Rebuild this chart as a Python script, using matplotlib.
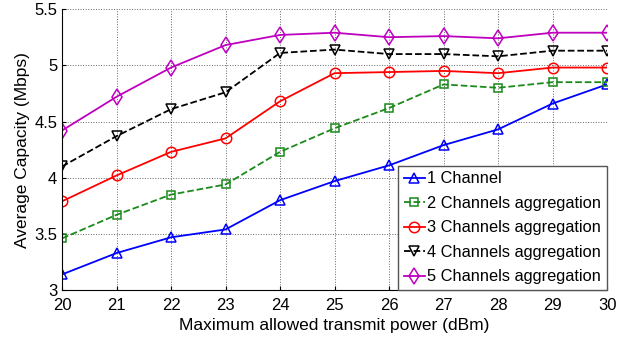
import matplotlib
matplotlib.use('Agg')
import matplotlib.pyplot as plt

# Capacity vs. transmit power for different numbers of aggregated channels
power = [20, 21, 22, 23, 24, 25, 26, 27, 28, 29, 30]
ch1 = [3.14, 3.33, 3.47, 3.54, 3.80, 3.97, 4.11, 4.29, 4.43, 4.66, 4.83]
ch2 = [3.46, 3.67, 3.85, 3.94, 4.23, 4.44, 4.62, 4.83, 4.80, 4.85, 4.85]
ch3 = [3.79, 4.02, 4.23, 4.35, 4.68, 4.93, 4.94, 4.95, 4.93, 4.98, 4.98]
ch4 = [4.10, 4.37, 4.61, 4.76, 5.11, 5.14, 5.10, 5.10, 5.08, 5.13, 5.13]
ch5 = [4.42, 4.72, 4.98, 5.18, 5.27, 5.29, 5.25, 5.26, 5.24, 5.29, 5.29]

labels = ['1 Channel', '2 Channels aggregation', '3 Channels aggregation',
          '4 Channels aggregation', '5 Channels aggregation']

plt.rcParams['font.family'] = ['Liberation Sans', 'DejaVu Sans']

fig, ax = plt.subplots(figsize=(6.22, 3.37), dpi=100)
fig.subplots_adjust(left=0.0997, right=0.976, top=0.973, bottom=0.139)

ax.plot(power, ch1, '-', color='#0000ff', marker='^', ms=7.5, mfc='none', mew=1.1, lw=1.3, label=labels[0])
ax.plot(power, ch2, '--', color='#1a8a1a', marker='s', ms=6, mfc='none', mew=1.1, lw=1.3, label=labels[1])
ax.plot(power, ch3, '-', color='#ff0000', marker='o', ms=7.5, mfc='none', mew=1.1, lw=1.3, label=labels[2])
ax.plot(power, ch4, '--', color='black', marker='v', ms=7.5, mfc='none', mew=1.1, lw=1.3, label=labels[3])
ax.plot(power, ch5, '-', color='#bf00bf', marker='d', ms=8.5, mfc='none', mew=1.1, lw=1.3, label=labels[4])

ax.set_xlim(20, 30)
ax.set_ylim(3, 5.5)
ax.set_xticks(power)
ax.set_yticks([3, 3.5, 4, 4.5, 5, 5.5])
ax.set_yticklabels(['3', '3.5', '4', '4.5', '5', '5.5'])
ax.grid(True, linestyle=':', color='#666666', linewidth=0.7)
ax.tick_params(labelsize=12, direction='in', length=3)
ax.tick_params(axis='x', pad=6)
for side in ['top', 'right']:
    ax.spines[side].set_visible(False)

ax.set_xlabel('Maximum allowed transmit power (dBm)', fontsize=12.5, labelpad=3)
ax.set_ylabel('Average Capacity (Mbps)', fontsize=12.5, labelpad=3)

leg = ax.legend(loc='lower right', fontsize=11.8, handlelength=1.3, handletextpad=0.15,
                borderaxespad=0, labelspacing=0.58, fancybox=False, framealpha=1,
                borderpad=0.35)
leg.get_frame().set_edgecolor('#555555')

plt.savefig('out.png', dpi=100)
